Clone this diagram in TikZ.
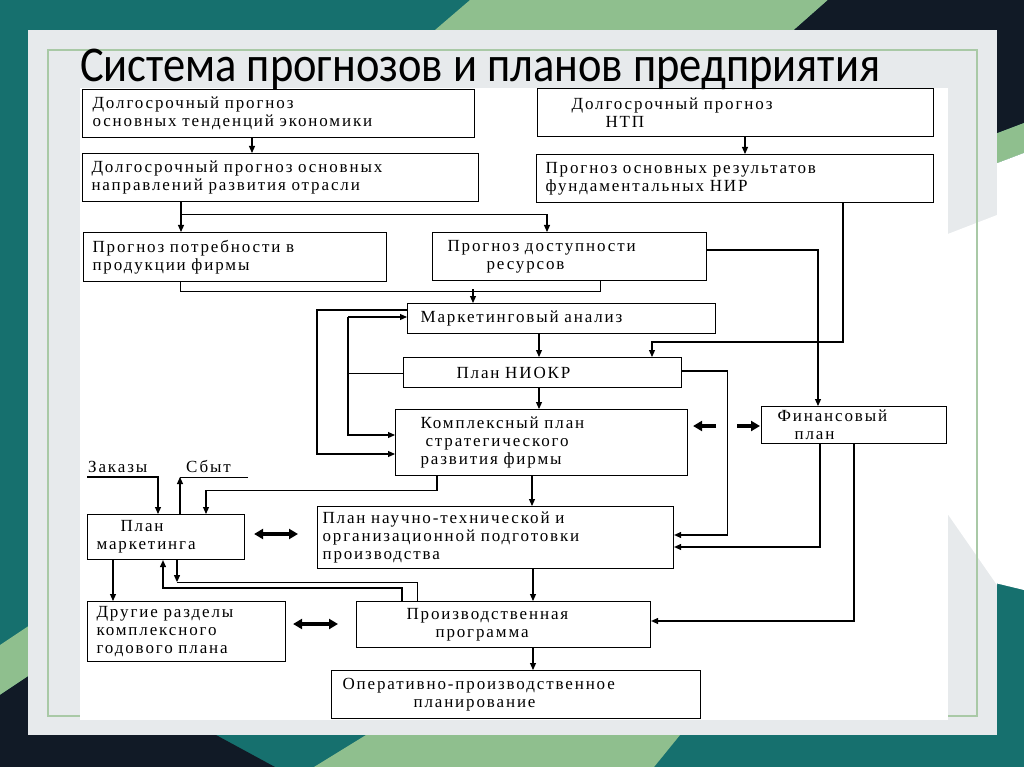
\documentclass[tikz,border=0pt]{standalone}
\usepackage{fontspec}
\newfontfamily\boxfont{Liberation Serif}[LetterSpace=11]
\newfontfamily\titlefont{Carlito}[FakeStretch=0.89]
\usepackage{tikz}
\usetikzlibrary{arrows.meta}
\definecolor{bgteal}{HTML}{16706E}
\definecolor{bgnavy}{HTML}{111A26}
\definecolor{bggreen}{HTML}{8FBF8E}
\definecolor{panelgray}{HTML}{E7EAEC}
\definecolor{rimgreen}{HTML}{A9C9A6}
\tikzset{
blk/.style={
  draw,
  rectangle,
  line width=1.1pt,
  anchor=north west,
  inner ysep=0pt,
  align=left,
  font=\boxfont\fontsize{17}{18}\selectfont
},
lbl/.style={anchor=base west, inner sep=0pt, font=\boxfont\fontsize{17}{18}\selectfont},
arr/.style={-{Triangle[length=7pt,width=6pt]}, line width=1.1pt},
fat/.style={-{Triangle[length=9pt,width=10pt]}, line width=3.5pt},
fatboth/.style={{Triangle[length=9pt,width=10pt]}-{Triangle[length=9pt,width=10pt]}, line width=3.5pt},
}

\begin{document}
\begin{tikzpicture}[x=1pt,y=-1pt]
\useasboundingbox (0,0) rectangle (1024,767);
% background of the slide
\fill[bgteal] (0,0) rectangle (1024,767);
\fill[bggreen] (470,0) -- (828,0) -- (760,60) -- (400,60) -- cycle;
\fill[bgnavy] (828,0) -- (1024,0) -- (1024,123) -- (900,170) -- (760,60) -- cycle;
\fill[bggreen] (1024,123) -- (1024,153) -- (900,200) -- (900,170) -- cycle;
\fill[white] (1024,153) -- (1024,590) -- (900,560) -- (900,200) -- cycle;
\fill[bggreen] (0,645) -- (60,605) -- (60,655) -- (0,695) -- cycle;
\fill[bgnavy] (0,695) -- (60,655) -- (216,735) -- (275,767) -- (0,767) -- cycle;
\fill[bggreen] (366,735) -- (680,735) -- (654,767) -- (314,767) -- cycle;
\fill[panelgray] (28,30) rectangle (997,735);
\fill[white] (940,237) -- (997,215) -- (997,585) -- (940,503) -- cycle;
\draw[rimgreen, line width=2pt] (48,50) rectangle (977,716);
\fill[white] (80,88) rectangle (948,720);

\node[anchor=base west, inner sep=0pt, font=\titlefont\fontsize{50}{50}\selectfont] (title) at (80,82)
  {Система прогнозов и планов предприятия};

% the boxes
\node[blk, text width=372, inner xsep=10, minimum height=48] (ltp) at (82,89)
  {Долгосрочный прогноз\\основных тенденций экономики};
\node[blk, text width=378, inner xsep=9, minimum height=48] (otr) at (82,153)
  {Долгосрочный прогноз основных\\направлений развития отрасли};
\node[blk, text width=285, inner xsep=9, minimum height=49] (potr) at (83,232)
  {Прогноз потребности в\\продукции фирмы};
\node[blk, text width=244, inner xsep=15, minimum height=48] (dost) at (432,232)
  {Прогноз доступности\\\hspace*{39pt}ресурсов};
\node[blk, text width=328, inner xsep=34, minimum height=48] (ntp) at (537,88)
  {Долгосрочный прогноз\\\hspace*{34pt}НТП};
\node[blk, text width=379, inner xsep=9, minimum height=48] (nir) at (536,154)
  {Прогноз основных результатов\\фундаментальных НИР};
\node[blk, text width=282, inner xsep=13, minimum height=30] (mark) at (407,303)
  {Маркетинговый анализ};
\node[blk, text width=172, inner xsep=53, minimum height=30] (niokr) at (403,357)
  {План НИОКР};
\node[blk, text width=242, inner xsep=25, minimum height=66] (kompl) at (395,409)
  {Комплексный план\\\hspace*{5pt}стратегического\\развития фирмы};
\node[blk, text width=153, inner xsep=16, minimum height=37] (fin) at (761,406)
  {Финансовый\\\hspace*{17pt}план};
\node[blk, text width=346, inner xsep=5, minimum height=62] (pnt) at (317,506)
  {План научно-технической и\\организационной подготовки\\производства};
\node[blk, text width=194, inner xsep=50, minimum height=46] (prog) at (356,601)
  {Производственная\\\hspace*{29pt}программа};
\node[blk, text width=347, inner xsep=11, minimum height=48] (oper) at (331,670)
  {Оперативно-производственное\\\hspace*{71pt}планирование};
\node[blk, text width=139, inner xsep=9, minimum height=45] (pmark) at (87,514)
  {\hspace*{24pt}План\\маркетинга};
\node[blk, text width=180, inner xsep=9, minimum height=60] (drug) at (87,601)
  {Другие разделы\\комплексного\\годового плана};
\node[lbl] (zak) at (88,472) {Заказы};
\node[lbl] (sbyt) at (186,472) {Сбыт};

% connectors of the upper part
\draw[arr] ([xshift=170]ltp.south west) -- ([xshift=170]otr.north west);
\draw[arr] ([xshift=99]otr.south west) -- ([xshift=98]potr.north west);
\draw[arr] ([xshift=99,yshift=-12]otr.south west) -| ([xshift=115]dost.north west);
\draw[arr] ([xshift=208]ntp.south west) -- ([xshift=209]nir.north west);
\draw ([xshift=97]potr.south west) -- ++(0,9) -| ([xshift=168]dost.south west);
\draw[arr] ([xshift=66,yshift=14]mark.north west) -- ([xshift=66]mark.north west);
\draw[arr] ([xshift=307]nir.south west) |- ([xshift=249,yshift=15]niokr.north west)
  -- ([xshift=249]niokr.north west);
\draw[arr] ([yshift=-18]dost.north east) -| ([xshift=57]fin.north west);
\draw[arr] ([xshift=132]mark.south west) -- ([xshift=136]niokr.north west);
\draw[arr] ([xshift=136]niokr.south west) -- ([xshift=144]kompl.north west);

% loops on the left
\draw[arr] ([yshift=-7]mark.north west) -- ++(-90,0) |- ([yshift=-45]kompl.north west);
\draw ([yshift=-16]niokr.north west) -- ++(-55,0);
\draw[arr] ([xshift=-59,yshift=-14]mark.north west) -- ([yshift=-14]mark.north west);
\draw[arr] ([xshift=-59,yshift=-14]mark.north west) |- ([yshift=-26]kompl.north west);

% thick arrows
\draw[fat] ([xshift=28,yshift=-17]kompl.north east) -- ([xshift=5,yshift=-17]kompl.north east);
\draw[fat] ([xshift=-24,yshift=-20]fin.north west) -- ([xshift=-1,yshift=-20]fin.north west);
\draw[fatboth] ([xshift=9,yshift=-20]pmark.north east) -- ([xshift=-19,yshift=-28]pnt.north west);
\draw[fatboth] ([xshift=7,yshift=-23]drug.north east) -- ([xshift=-18,yshift=-23]prog.north west);

% the lower part
\draw[arr] ([xshift=137]kompl.south west) -- ([xshift=215]pnt.north west);
\draw[arr] ([xshift=216]pnt.south west) -- ([xshift=177]prog.north west);
\draw[arr] ([xshift=177]prog.south west) -- ([xshift=202]oper.north west);
\draw[arr] ([yshift=-14]niokr.north east) -- ++(45,0) |- ([yshift=-29]pnt.north east);
\draw[arr] ([xshift=59]fin.south west) |- ([yshift=-41]pnt.north east);
\draw[arr] ([xshift=93]fin.south west) |- ([yshift=-20]prog.north east);
\draw[arr] ([xshift=42]kompl.south west) -- ++(0,14) -| ([xshift=119]pmark.north west);

% plan of marketing
\draw[arr] ([xshift=-1,yshift=-5]zak.base west) -| ([xshift=71]pmark.north west);
\draw ([xshift=17,yshift=-5]sbyt.base east) -- ([xshift=-6,yshift=-5]sbyt.base west);
\draw[arr] ([xshift=93]pmark.north west) -- ([xshift=-6,yshift=-5]sbyt.base west);
\draw[arr] ([xshift=46]prog.north west) -- ++(0,-13) -| ([xshift=76]pmark.south west);
\draw[arr] ([xshift=90]pmark.south west) -- ++(0,22);
\draw ([xshift=90,yshift=-22]pmark.south west) -| ([xshift=61]prog.north west);
\draw[arr] ([xshift=26]pmark.south west) -- ([xshift=26]drug.north west);
\end{tikzpicture}
\end{document}
